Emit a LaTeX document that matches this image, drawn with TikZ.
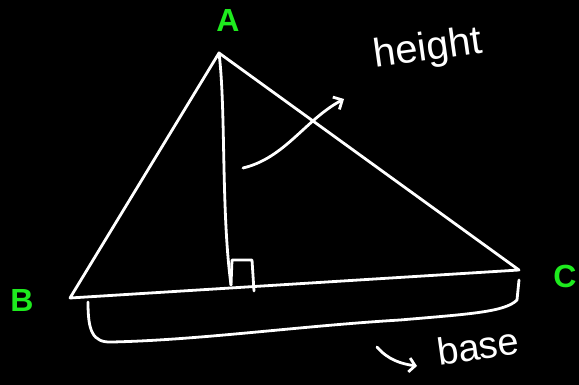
\documentclass[tikz,border=0pt]{standalone}
\usepackage{fontspec}
\setmainfont{Liberation Sans}
\usetikzlibrary{arrows.meta}
\definecolor{pen}{RGB}{255,255,255}
\definecolor{lblgreen}{RGB}{30,235,30}
\begin{document}
\begin{tikzpicture}[x=1pt,y=-1pt,
  stroke/.style={draw=pen,line width=2.8pt,line cap=round,line join=round},
  vertexlbl/.style={text=lblgreen,font=\fontsize{32}{32}\selectfont\bfseries,inner sep=0pt},
  handtext/.style={text=pen,inner sep=0pt}]
\fill[black] (0,0) rectangle (579,385);
\useasboundingbox (0,0) rectangle (579,385);
\coordinate (A) at (219,53);
\coordinate (B) at (70,298);
\coordinate (C) at (519,270);
\coordinate (H) at (231,285);
% triangle
\draw[stroke] (B) -- (A) -- (C) -- cycle;
% altitude
\draw[stroke] (A) .. controls (226,110) and (221,210) .. (H);
% right angle mark
\coordinate (R1) at (232,260);
\coordinate (R2) at (252,260);
\coordinate (R3) at (254,291);
\draw[stroke] (H) -- (R1) -- (R2) -- (R3);
% height pointer
\coordinate (hs) at (243,168);
\coordinate (he) at (344,99);
\draw[stroke,-{Straight Barb[length=7pt,width=14pt]}] (hs) .. controls (285,158) and (305,120) .. (he);
% base brace
\coordinate (bs) at (88,302);
\coordinate (be) at (519,280);
\draw[stroke] (bs) .. controls (88,330) and (92,343) .. (112,342)
  .. controls (200,340) and (300,326) .. (400,320)
  .. controls (470,314) and (505,312) .. (517,300) -- (be);
% base pointer
\coordinate (ps) at (377,347);
\coordinate (pe) at (417,366);
\draw[stroke,-{Straight Barb[length=6pt,width=14pt]}] (ps) .. controls (388,360) and (402,364) .. (pe);
% labels
\node[vertexlbl] (la) at (228,20) {A};
\node[vertexlbl] (lb) at (22,300) {B};
\node[vertexlbl] (lc) at (565,276) {C};
\node[handtext,font=\fontsize{40}{40}\selectfont,rotate=8] (lh) at (428,50) {height};
\node[handtext,font=\fontsize{38}{38}\selectfont,rotate=8] (lbase) at (478,346) {base};
\end{tikzpicture}
\end{document}
